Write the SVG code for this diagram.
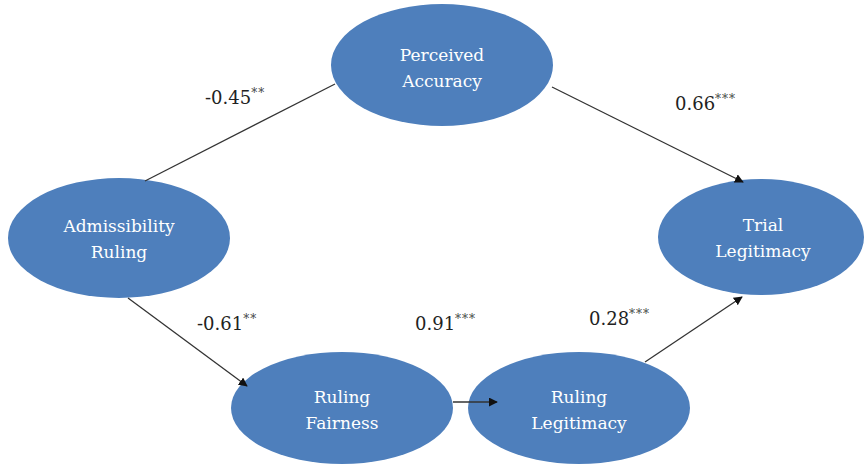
<svg xmlns="http://www.w3.org/2000/svg" width="866" height="470" viewBox="0 0 866 470">
<style>
.node{fill:#4e7fbc;}
.nt{fill:#ffffff;font-size:17px;text-anchor:middle;}
.lbl{fill:#222222;font-size:18px;}
.sup{font-size:12px;fill:#444444;letter-spacing:1px;}
.edge{stroke:#333333;stroke-width:1.3;fill:none;}
</style>
<defs>
<marker id="arr" viewBox="0 0 10 10" refX="9" refY="5" markerWidth="9" markerHeight="9" markerUnits="userSpaceOnUse" orient="auto">
<path d="M0,0 L10,5 L0,10 z" fill="#111111"/>
</marker>
</defs>
<g font-family="DejaVu Serif, Liberation Serif, serif">
<g id="perceived-accuracy">
<ellipse class="node" cx="442" cy="65" rx="111" ry="61"/>
<text class="nt" x="442" y="61">Perceived</text>
<text class="nt" x="442" y="87">Accuracy</text>
</g>
<g id="admissibility-ruling">
<ellipse class="node" cx="119" cy="238" rx="111" ry="60"/>
<text class="nt" x="119" y="232">Admissibility</text>
<text class="nt" x="119" y="258">Ruling</text>
</g>
<g id="trial-legitimacy">
<ellipse class="node" cx="761" cy="237" rx="103" ry="58"/>
<text class="nt" x="763" y="231">Trial</text>
<text class="nt" x="763" y="257">Legitimacy</text>
</g>
<g id="ruling-fairness">
<ellipse class="node" cx="342" cy="408" rx="111" ry="56"/>
<text class="nt" x="342" y="403">Ruling</text>
<text class="nt" x="342" y="429">Fairness</text>
</g>
<g id="ruling-legitimacy">
<ellipse class="node" cx="579" cy="408" rx="111" ry="56"/>
<text class="nt" x="579" y="403">Ruling</text>
<text class="nt" x="579" y="429">Legitimacy</text>
</g>
<g id="connectors">
<line class="edge" x1="145" y1="181" x2="335" y2="84"/>
<line class="edge" x1="552" y1="87" x2="743" y2="182" marker-end="url(#arr)"/>
<line class="edge" x1="128" y1="298" x2="247" y2="386" marker-end="url(#arr)"/>
<line class="edge" x1="453" y1="402" x2="497" y2="402" marker-end="url(#arr)"/>
<line class="edge" x1="645" y1="362" x2="742" y2="297" marker-end="url(#arr)"/>
</g>
<g id="labels">
<text class="lbl" x="205" y="104">-0.45<tspan class="sup" dy="-7">**</tspan></text>
<text class="lbl" x="675" y="110">0.66<tspan class="sup" dy="-7">***</tspan></text>
<text class="lbl" x="197" y="330">-0.61<tspan class="sup" dy="-7">**</tspan></text>
<text class="lbl" x="415" y="330">0.91<tspan class="sup" dy="-7">***</tspan></text>
<text class="lbl" x="589" y="325">0.28<tspan class="sup" dy="-7">***</tspan></text>
</g>
</g>
</svg>
